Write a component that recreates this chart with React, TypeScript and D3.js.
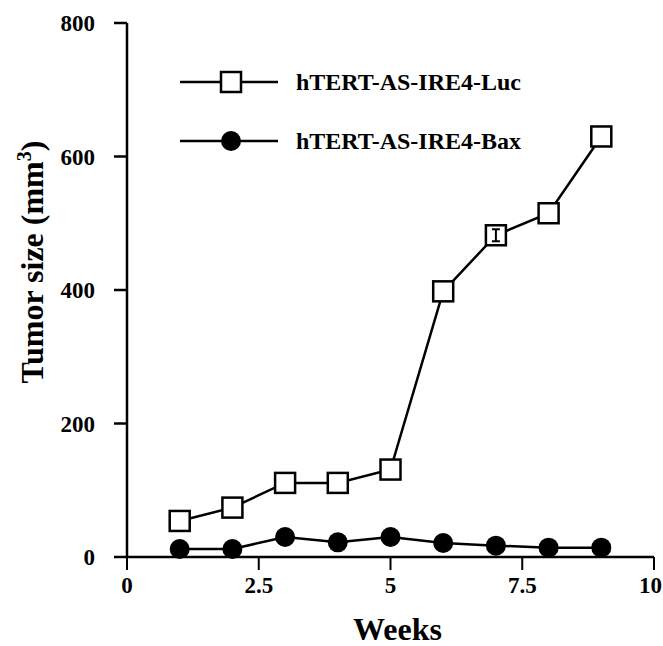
import React from "react";
import * as d3 from "d3";

const weeks = [1, 2, 3, 4, 5, 6, 7, 8, 9];
const lucValues = [54, 74, 111, 111, 131, 398, 482, 515, 630];
const baxValues = [12, 12, 30, 22, 30, 21, 17, 14, 14];
const lucErrWeek = 7;
const lucErr = 9;
const xTicks = [0, 2.5, 5, 7.5, 10];
const yTicks = [0, 200, 400, 600, 800];
const seriesNames = ["hTERT-AS-IRE4-Luc", "hTERT-AS-IRE4-Bax"];

const W = 663;
const H = 646;
const FONT = "'Liberation Serif', 'Times New Roman', serif";

export default function App() {
  const x = d3.scaleLinear().domain([0, 10]).range([127, 654]);
  const y = d3.scaleLinear().domain([0, 800]).range([557, 23]);
  const line = d3
    .line<[number, number]>()
    .x((d) => x(d[0]))
    .y((d) => y(d[1]));
  const lucPts: [number, number][] = weeks.map((w, i) => [w, lucValues[i]]);
  const baxPts: [number, number][] = weeks.map((w, i) => [w, baxValues[i]]);
  const sq = 20;
  const r = 10;
  const errIdx = weeks.indexOf(lucErrWeek);

  return (
    <svg
      width={W}
      height={H}
      style={{ position: "absolute", left: 0, top: 0, background: "#fff" }}
      fontFamily={FONT}
      fontWeight="bold"
    >
      {/* axes */}
      <line x1={x(0)} x2={x(0)} y1={y(800)} y2={y(0)} stroke="#000" strokeWidth={2.5} />
      <line x1={x(0)} x2={x(10)} y1={y(0)} y2={y(0)} stroke="#000" strokeWidth={2.5} />
      {yTicks.map((t) => (
        <g key={"y" + t}>
          <line x1={x(0) - 13} x2={x(0)} y1={y(t)} y2={y(t)} stroke="#000" strokeWidth={2.5} />
          <text x={x(0) - 32} y={y(t)} dy="0.35em" textAnchor="end" fontSize={23}>
            {t}
          </text>
        </g>
      ))}
      {xTicks.map((t, i) => (
        <g key={"x" + t}>
          <line x1={x(t)} x2={x(t)} y1={y(0)} y2={y(0) + 13} stroke="#000" strokeWidth={2} />
          <text
            x={i === xTicks.length - 1 ? W - 1 : x(t)}
            y={y(0) + 36}
            textAnchor={i === xTicks.length - 1 ? "end" : "middle"}
            fontSize={23}
          >
            {t}
          </text>
        </g>
      ))}
      <text x={(x(0) + x(10)) / 2 + 7} y={640} textAnchor="middle" fontSize={32}>
        Weeks
      </text>
      <text
        transform={`translate(43, 262) rotate(-90)`}
        textAnchor="middle"
        fontSize={32}
      >
        Tumor size (mm<tspan dy={-12} fontSize={20}>3</tspan>
        <tspan dy={12}>)</tspan>
      </text>

      {/* series lines */}
      <path d={line(lucPts) || ""} fill="none" stroke="#000" strokeWidth={2.5} />
      <path d={line(baxPts) || ""} fill="none" stroke="#000" strokeWidth={2.5} />

      {/* Bax circles */}
      {baxPts.map((p, i) => (
        <circle key={"b" + i} cx={x(p[0])} cy={y(p[1])} r={r} fill="#000" />
      ))}
      {/* Luc squares */}
      {lucPts.map((p, i) => (
        <rect
          key={"l" + i}
          x={x(p[0]) - sq / 2}
          y={y(p[1]) - sq / 2}
          width={sq}
          height={sq}
          fill="#fff"
          stroke="#000"
          strokeWidth={2.5}
        />
      ))}
      {/* error bar at week 7 */}
      <g stroke="#000" strokeWidth={2}>
        <line
          x1={x(lucErrWeek)}
          x2={x(lucErrWeek)}
          y1={y(lucValues[errIdx] + lucErr)}
          y2={y(lucValues[errIdx] - lucErr)}
        />
        <line
          x1={x(lucErrWeek) - 4}
          x2={x(lucErrWeek) + 4}
          y1={y(lucValues[errIdx] + lucErr)}
          y2={y(lucValues[errIdx] + lucErr)}
        />
        <line
          x1={x(lucErrWeek) - 4}
          x2={x(lucErrWeek) + 4}
          y1={y(lucValues[errIdx] - lucErr)}
          y2={y(lucValues[errIdx] - lucErr)}
        />
      </g>

      {/* legend */}
      <g>
        <line x1={180} x2={278} y1={82} y2={82} stroke="#000" strokeWidth={2.5} />
        <rect x={231 - sq / 2} y={82 - sq / 2} width={sq} height={sq} fill="#fff" stroke="#000" strokeWidth={2.5} />
        <text x={296} y={82} dy="0.35em" fontSize={24}>
          {seriesNames[0]}
        </text>
        <line x1={180} x2={278} y1={141} y2={141} stroke="#000" strokeWidth={2.5} />
        <circle cx={231} cy={141} r={r} fill="#000" />
        <text x={296} y={141} dy="0.35em" fontSize={24}>
          {seriesNames[1]}
        </text>
      </g>
    </svg>
  );
}
